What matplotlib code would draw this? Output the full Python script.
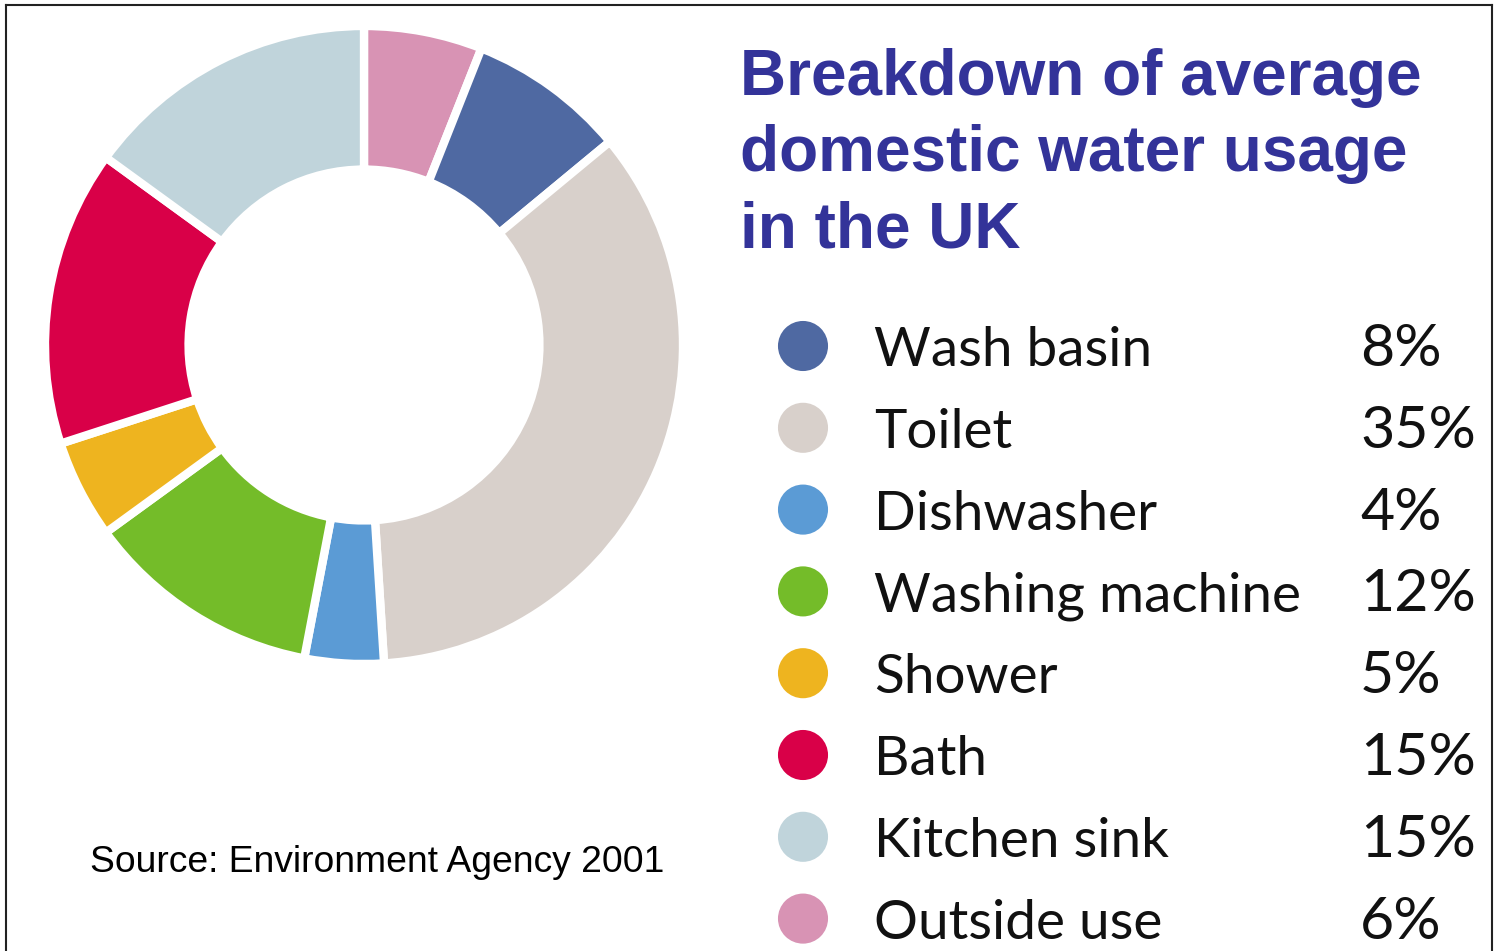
import matplotlib
matplotlib.use("Agg")
import matplotlib.pyplot as plt
from matplotlib.lines import Line2D

# data, in legend order
labels = ["Wash basin", "Toilet", "Dishwasher", "Washing machine",
          "Shower", "Bath", "Kitchen sink", "Outside use"]
shares = [8, 35, 4, 12, 5, 15, 15, 6]
colors = ["#4F69A2", "#D8D0CB", "#5B9BD5", "#74BC29",
          "#EEB41F", "#D90048", "#C0D4DB", "#D893B4"]

title_lines = ["Breakdown of average", "domestic water usage", "in the UK"]
source = "Source: Environment Agency 2001"

W, H = 1495, 951
fig = plt.figure(figsize=(W / 100, H / 100), dpi=100)

# overlay in pixel coordinates (y down)
ov = fig.add_axes([0, 0, 1, 1])
ov.set_xlim(0, W)
ov.set_ylim(H, 0)
ov.axis("off")

# donut: outside use sits at 12 o'clock, then clockwise in legend order
cx, cy, R = 364, 345, 319
pie_vals = shares[-1:] + shares[:-1]
pie_cols = colors[-1:] + colors[:-1]
pax = fig.add_axes([(cx - R) / W, (H - cy - R) / H, 2 * R / W, 2 * R / H])
pax.pie(pie_vals, colors=pie_cols, startangle=90, counterclock=False,
        radius=1, wedgeprops=dict(width=0.45, edgecolor="white", linewidth=6))
pax.set_xlim(-1, 1)
pax.set_ylim(-1, 1)
pax.set_aspect("equal")
pax.axis("off")

# title
for i, line in enumerate(title_lines):
    ov.text(740, 95 + i * 76, line, fontsize=46, fontweight="bold",
            family="Liberation Sans", color="#333399", va="baseline", ha="left")

# legend
y0, step = 346, 81.8
for i, (lab, val, col) in enumerate(zip(labels, shares, colors)):
    y = y0 + i * step
    ov.scatter([803], [y], s=1300, color=col, edgecolors="none", zorder=3)
    ov.text(874, y + 20, lab, fontsize=39.5, family="Lato", color="#111111",
            va="baseline", ha="left")
    ov.text(1360, y + 20, f"{val}%", fontsize=42.5, family="Lato",
            color="#111111", va="baseline", ha="left")

ov.text(90, 872, source, fontsize=26.8, family="Liberation Sans",
        color="black", va="baseline", ha="left")

# frame (bottom edge is cut off)
fig.add_artist(Line2D([6 / W, 6 / W], [0, 1 - 5 / H], color="#222222", lw=1.5))
fig.add_artist(Line2D([6 / W, 1492 / W], [1 - 5 / H, 1 - 5 / H], color="#222222", lw=1.5))
fig.add_artist(Line2D([1492 / W, 1492 / W], [0, 1 - 5 / H], color="#222222", lw=1.5))

fig.savefig("out.png", dpi=100, facecolor="white")
